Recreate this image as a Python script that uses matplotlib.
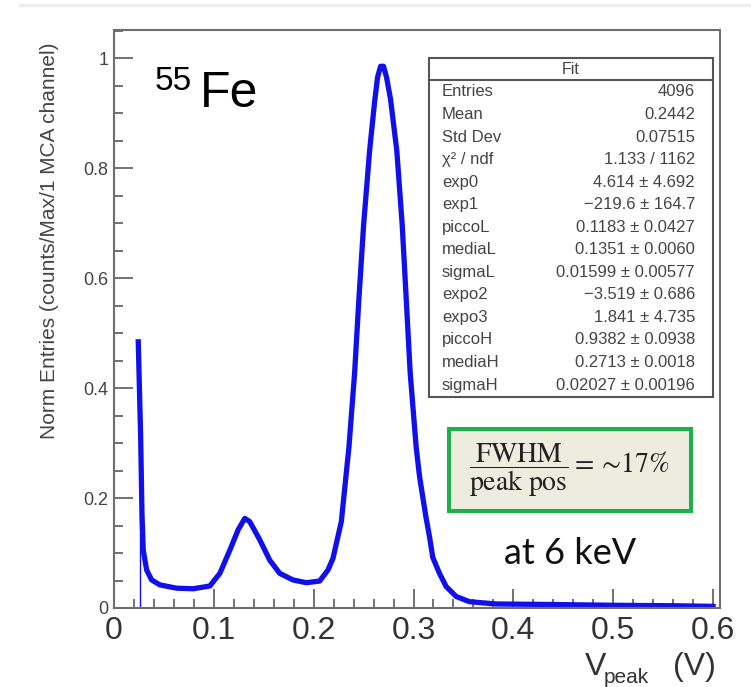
import matplotlib
matplotlib.use("Agg")
import matplotlib.pyplot as plt
from matplotlib.patches import Rectangle
from matplotlib.lines import Line2D
from matplotlib.ticker import MultipleLocator, FuncFormatter

plt.rcParams["font.family"] = ["Liberation Sans", "DejaVu Sans"]
plt.rcParams["mathtext.fontset"] = "stix"

# 55Fe pulse-height spectrum (normalised to the main peak)
v_peak = [0.0243, 0.0250, 0.0267, 0.0280, 0.0293, 0.0327, 0.0377, 0.0460,
          0.0627, 0.0793, 0.0960, 0.1060, 0.1160, 0.1243, 0.1310, 0.1360,
          0.1460, 0.1560, 0.1660, 0.1793, 0.1927, 0.2060, 0.2143, 0.2193,
          0.2277, 0.2353, 0.2410, 0.2453, 0.2500, 0.2560, 0.2610, 0.2640,
          0.2670, 0.2700, 0.2730, 0.2770, 0.2833, 0.2887, 0.2927, 0.2967,
          0.3027, 0.3060, 0.3090, 0.3125, 0.3160, 0.3193, 0.3260, 0.3327,
          0.3427, 0.3560, 0.3827, 0.4327, 0.4990, 0.5660, 0.6000]
norm_entries = [0.484, 0.433, 0.311, 0.172, 0.105, 0.069, 0.051, 0.042,
                0.036, 0.035, 0.040, 0.063, 0.105, 0.142, 0.163, 0.157,
                0.124, 0.087, 0.063, 0.051, 0.046, 0.049, 0.069, 0.090,
                0.157, 0.292, 0.427, 0.562, 0.696, 0.831, 0.920, 0.965,
                0.985, 0.985, 0.965, 0.925, 0.831, 0.696, 0.562, 0.427,
                0.292, 0.240, 0.205, 0.165, 0.130, 0.092, 0.063, 0.039,
                0.021, 0.0115, 0.0073, 0.0065, 0.005, 0.004, 0.003]

# first filled bin edge of the histogram
edge_x = 0.026
edge_top = 0.17

stat_names = ["Entries", "Mean", "Std Dev", "χ² / ndf", "exp0", "exp1",
              "piccoL", "mediaL", "sigmaL", "expo2", "expo3", "piccoH",
              "mediaH", "sigmaH"]
stat_values = ["4096", "0.2442", "0.07515", "1.133 / 1162",
               "4.614 ± 4.692", "−219.6 ± 164.7", "0.1183 ± 0.0427",
               "0.1351 ± 0.0060", "0.01599 ± 0.00577", "−3.519 ± 0.686",
               "1.841 ± 4.735", "0.9382 ± 0.0938", "0.2713 ± 0.0018",
               "0.02027 ± 0.00196"]

W, H = 751, 687
fig = plt.figure(figsize=(W / 100, H / 100), dpi=100)
ax = fig.add_axes([114 / W, 79 / H, 606 / W, 578 / H])

blue = "#1010ea"
ax.plot(v_peak, norm_entries, color=blue, lw=3.8, solid_joinstyle="round")
ax.vlines(edge_x, 0, edge_top, color=blue, lw=1.0)

ax.set_xlim(0, 0.607)
ax.set_ylim(0, 1.051)

ax.xaxis.set_major_locator(MultipleLocator(0.1))
ax.xaxis.set_minor_locator(MultipleLocator(0.02))
ax.yaxis.set_major_locator(MultipleLocator(0.2))
ax.yaxis.set_minor_locator(MultipleLocator(0.05))
fmt = FuncFormatter(lambda v, p: "%g" % round(v, 3))
ax.xaxis.set_major_formatter(fmt)
ax.yaxis.set_major_formatter(fmt)

ax.tick_params(which="both", direction="in", color="#666666", width=1.3)
ax.tick_params(which="major", length=13.5)
ax.tick_params(which="minor", length=6.8)
ax.tick_params(axis="y", labelsize=13, labelcolor="#444444", pad=4)
ax.tick_params(axis="x", labelsize=23, labelcolor="#333333", pad=6)
for s in ax.spines.values():
    s.set_color("#6e6e6e")
    s.set_linewidth(1.5)

fig.text(50 / W, (H - 241) / H, "Norm Entries (counts/Max/1 MCA channel)",
         rotation=90, ha="center", va="center", fontsize=15, color="#444444")

# x axis title: V_peak (V)
fig.text(585 / W, (H - 675) / H, "V", ha="left", va="baseline",
         fontsize=23, color="#333333")
fig.text(604 / W, (H - 683) / H, "peak", ha="left", va="baseline",
         fontsize=15, color="#333333")
fig.text(673 / W, (H - 675) / H, "(V)", ha="left", va="baseline",
         fontsize=23, color="#333333")

# isotope label
fig.text(155 / W, (H - 90) / H, "55", ha="left", va="baseline", fontsize=24)
fig.text(200 / W, (H - 107) / H, "Fe", ha="left", va="baseline", fontsize=36)

# fit statistics box
bx0, bx1 = (429 - 114) / 606, (713 - 114) / 606
by0, by1 = (608 - 397) / 578, (608 - 58) / 578
sep = (608 - 80) / 578
ax.add_patch(Rectangle((bx0, by0), bx1 - bx0, by1 - by0, transform=ax.transAxes,
                       facecolor="white", edgecolor="#555555", lw=1.5, zorder=5))
ax.plot([bx0, bx1], [sep, sep], transform=ax.transAxes, color="#555555",
        lw=1.5, zorder=6)
ax.text((bx0 + bx1) / 2, (608 - 69) / 578, "Fit", transform=ax.transAxes,
        ha="center", va="center", fontsize=11.5, color="#444444", zorder=7)
for i, (name, val) in enumerate(zip(stat_names, stat_values)):
    yy = (608 - (92 + i * 22.54)) / 578
    ax.text((442 - 114) / 606, yy, name, transform=ax.transAxes, ha="left",
            va="center", fontsize=12, color="#444444", zorder=7)
    ax.text((695 - 114) / 606, yy, val, transform=ax.transAxes, ha="right",
            va="center", fontsize=12, color="#444444", zorder=7)

# resolution box
ax.add_patch(Rectangle(((449 - 114) / 606, (608 - 511) / 578), 242 / 606, 82 / 578,
                       transform=ax.transAxes, facecolor="#eeebdf",
                       edgecolor="#1fb04c", lw=2.9, zorder=5))
ax.text((569 - 114) / 606, (608 - 470) / 578,
        r"$\dfrac{\mathrm{FWHM}}{\mathrm{peak\ pos}} = \sim\!17\%$",
        transform=ax.transAxes, ha="center", va="center", fontsize=20,
        color="#222222", zorder=7)
ax.text((570 - 114) / 606, (608 - 553) / 578, "at 6 keV", transform=ax.transAxes,
        ha="center", va="center", fontsize=26, color="#111111",
        family=["Lato", "DejaVu Sans"], zorder=7)

fig.add_artist(Line2D([20 / W, 1], [(H - 5) / H] * 2, color="#eeeeee", lw=2.5))

fig.savefig("out.png", dpi=100)
